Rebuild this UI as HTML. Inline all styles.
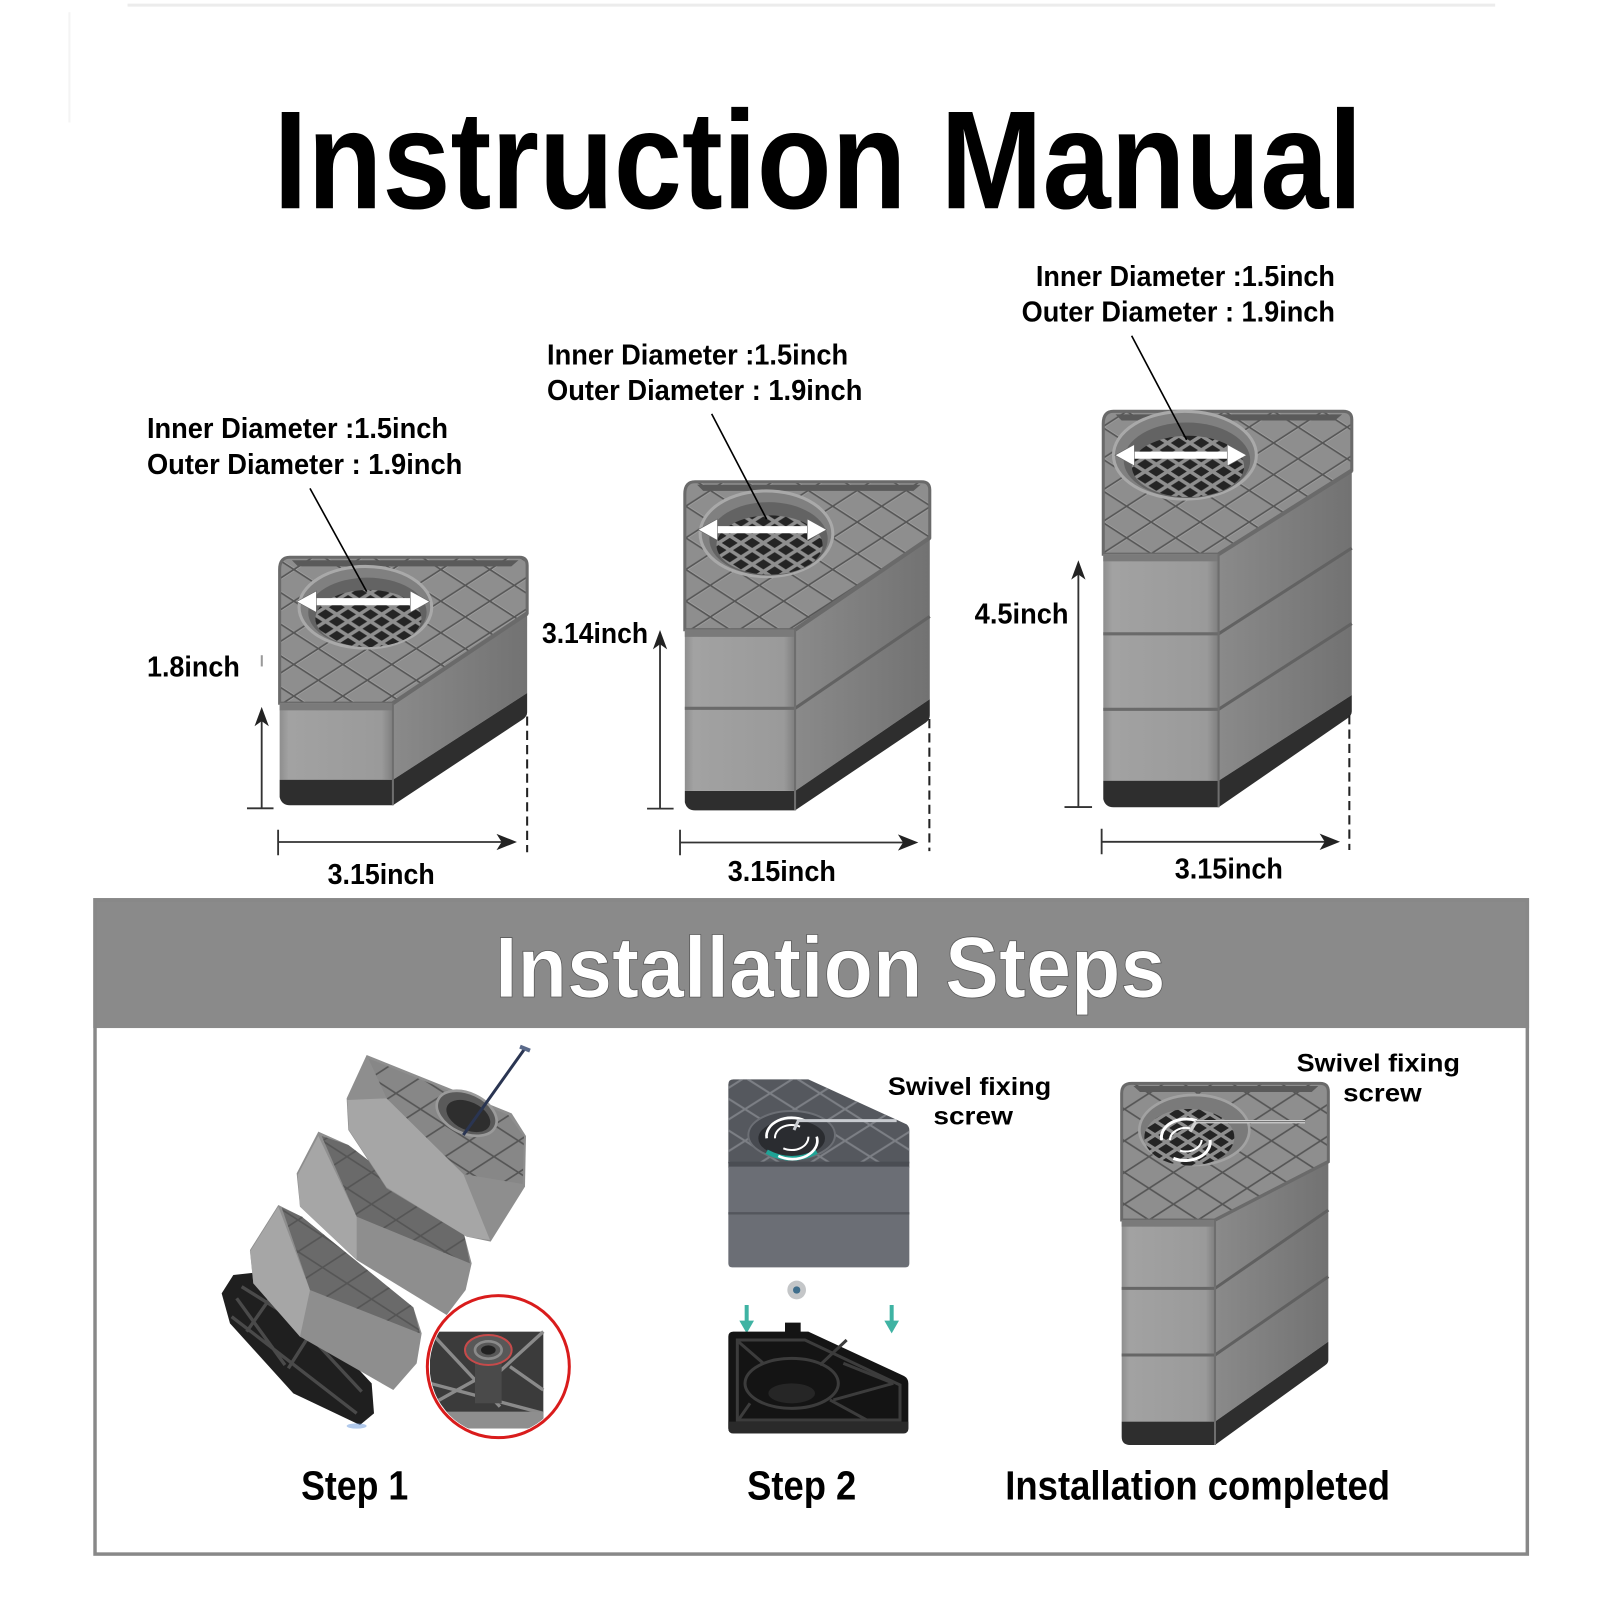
<!DOCTYPE html>
<html><head><meta charset="utf-8"><style>
html,body{margin:0;padding:0;background:#fff;}
svg{display:block;}
text{font-family:"Liberation Sans",Arial,sans-serif;font-weight:bold;}
</style></head><body>
<svg width="1600" height="1600" viewBox="0 0 1567.7 1567.7" xmlns="http://www.w3.org/2000/svg">
<defs>
<pattern id="hatch" width="48" height="31" patternUnits="userSpaceOnUse"><path d="M1.6,0L49.6,31M49.6,0L1.6,31M-46.4,0L1.6,31" stroke="#a8a8a8" stroke-width="1.2" fill="none"/><path d="M0,0L48,31M48,0L0,31" stroke="#555" stroke-width="1.6" fill="none"/></pattern>
<pattern id="grid" width="22" height="14" patternUnits="userSpaceOnUse"><rect width="22" height="14" fill="#242424"/><path d="M0,0L22,14M22,0L0,14" stroke="#8e8e8e" stroke-width="3.4" fill="none"/></pattern>
<pattern id="hatchL" width="147" height="95" patternUnits="userSpaceOnUse"><path d="M0,0L147,95M147,0L0,95" stroke="#555" stroke-width="5" fill="none"/></pattern>
<pattern id="hatch2" width="150" height="95" patternUnits="userSpaceOnUse"><path d="M0,0L150,95M150,0L0,95" stroke="#7c7f85" stroke-width="6" fill="none"/></pattern>
<pattern id="gridL" width="66" height="42" patternUnits="userSpaceOnUse"><rect width="66" height="42" fill="#242424"/><path d="M0,0L66,42M66,0L0,42" stroke="#8e8e8e" stroke-width="10" fill="none"/></pattern>
<linearGradient id="side" x1="0" y1="0" x2="1" y2="0"><stop offset="0" stop-color="#8a8a8a"/><stop offset="1" stop-color="#727272"/></linearGradient>
<linearGradient id="front" x1="0" y1="0" x2="1" y2="0"><stop offset="0" stop-color="#8e8e8e"/><stop offset="0.08" stop-color="#a2a2a2"/><stop offset="0.9" stop-color="#9a9a9a"/><stop offset="1" stop-color="#7e7e7e"/></linearGradient>
<clipPath id="redclip"><circle cx="895" cy="1010" r="206"/></clipPath>
</defs>

<line x1="125" y1="5" x2="1465" y2="5" stroke="#ececec" stroke-width="3"/>
<line x1="68" y1="12" x2="68" y2="120" stroke="#f4f4f4" stroke-width="2"/>

<text x="268" y="204" font-size="137" textLength="1067" lengthAdjust="spacingAndGlyphs" fill="#000">Instruction Manual</text>

<!-- ================= BLOCK 1 ================= -->
<g>
<path d="M284,546 L509,546 Q516.5,546 516.5,554 L516.5,601 L385,689 L274,689 L274,558 Q274,546 284,546 Z" fill="#8e8e8e"/>
<path d="M284,546 L509,546 Q516.5,546 516.5,554 L516.5,601 L385,689 L274,689 L274,558 Q274,546 284,546 Z" fill="url(#hatch)"/>
<path d="M286,549 L508,549 L501,555 L292,555 Z" fill="#5a5a5a"/>
<path d="M284,546 L509,546 Q516.5,546 516.5,554 L516.5,601 L385,689 L274,689 L274,558 Q274,546 284,546 Z" fill="none" stroke="#6a6a6a" stroke-width="3"/>
<ellipse cx="358" cy="595" rx="65" ry="40" fill="#808080" stroke="#a9a9a9" stroke-width="3"/>
<ellipse cx="360" cy="600" rx="58" ry="34" fill="#636363"/>
<ellipse cx="361" cy="606" rx="52" ry="28" fill="url(#grid)"/>
<rect x="274" y="689" width="111" height="75" fill="url(#front)"/>
<rect x="274" y="689" width="111" height="7" fill="#7a7a7a"/>
<path d="M385,689 L516.5,601 L516.5,679 L385,764 Z" fill="url(#side)"/>
<path d="M385,689 L516.5,601" stroke="#6a6a6a" stroke-width="4"/>
<path d="M274,764 L385,764 L516.5,679 L516.5,698 Q516.5,702 512,705 L385,789 L284,789 Q276,789 274,781 Z" fill="#2e2e2e"/>
<path d="M385,689 V789" stroke="#6e6e6e" stroke-width="2"/>
<path d="M306,589.5 H406" stroke="#fff" stroke-width="7"/>
<path d="M290.7,589.5 L310,579 L310,600 Z M421,589.5 L402,579 L402,600 Z" fill="#fff" stroke="#666" stroke-width="0.6"/>
<line x1="303.7" y1="478.5" x2="359.3" y2="579.7" stroke="#000" stroke-width="1.6"/>
</g>
<text x="144" y="429" font-size="28" textLength="295" lengthAdjust="spacingAndGlyphs">Inner Diameter :1.5inch</text>
<text x="144" y="464.5" font-size="28" textLength="309" lengthAdjust="spacingAndGlyphs">Outer Diameter : 1.9inch</text>
<text x="144" y="663" font-size="28" textLength="91" lengthAdjust="spacingAndGlyphs">1.8inch</text>
<line x1="256.5" y1="642" x2="256.5" y2="653" stroke="#999" stroke-width="2"/>
<g stroke="#333" stroke-width="1.8" fill="none">
<path d="M256.4,706 V792 M242,792 H268"/>
<path d="M272.5,825 H500 M272.5,813 V838"/>
</g>
<path d="M256.4,692.6 L263.4,711.6 L256.4,706.6 L249.4,711.6 Z" fill="#222"/>
<path d="M506.5,825 L486.5,817 L491.5,825 L486.5,833 Z" fill="#222"/>
<path d="M516.5,702 V835" stroke="#222" stroke-width="2" stroke-dasharray="9 5"/>
<text x="321" y="866" font-size="28" textLength="105" lengthAdjust="spacingAndGlyphs">3.15inch</text>

<!-- ================= BLOCK 2 ================= -->
<g>
<path d="M681,472 L903,472 Q911,472 911,480 L911,527 L779,617 L671,617 L671,484 Q671,472 681,472 Z" fill="#8e8e8e"/>
<path d="M681,472 L903,472 Q911,472 911,480 L911,527 L779,617 L671,617 L671,484 Q671,472 681,472 Z" fill="url(#hatch)"/>
<path d="M683,475 L902,475 L895,481 L689,481 Z" fill="#5a5a5a"/>
<path d="M681,472 L903,472 Q911,472 911,480 L911,527 L779,617 L671,617 L671,484 Q671,472 681,472 Z" fill="none" stroke="#6a6a6a" stroke-width="3"/>
<ellipse cx="751" cy="523" rx="65" ry="42" fill="#808080" stroke="#a9a9a9" stroke-width="3"/>
<ellipse cx="753" cy="528" rx="58" ry="36" fill="#636363"/>
<ellipse cx="754" cy="534" rx="52" ry="29" fill="url(#grid)"/>
<rect x="671" y="617" width="108" height="158" fill="url(#front)"/>
<rect x="671" y="617" width="108" height="7" fill="#7a7a7a"/>
<path d="M671,694 H779" stroke="#6a6a6a" stroke-width="3"/>
<path d="M779,617 L911,527 L911,685 L779,775 Z" fill="url(#side)"/>
<path d="M779,617 L911,527" stroke="#6a6a6a" stroke-width="4"/>
<path d="M779,694 L911,604" stroke="#626262" stroke-width="3"/>
<path d="M671,775 L779,775 L911,685 L911,701 Q911,705 907,708 L779,794 L681,794 Q673,794 671,786 Z" fill="#2e2e2e"/>
<path d="M779,617 V794" stroke="#6e6e6e" stroke-width="2"/>
<path d="M699,519 H795" stroke="#fff" stroke-width="7"/>
<path d="M684,519 L703,508.5 L703,529.5 Z M810,519 L791,508.5 L791,529.5 Z" fill="#fff" stroke="#666" stroke-width="0.6"/>
<line x1="697.3" y1="405.5" x2="751.2" y2="508.8" stroke="#000" stroke-width="1.6"/>
</g>
<text x="536" y="357" font-size="28" textLength="295" lengthAdjust="spacingAndGlyphs">Inner Diameter :1.5inch</text>
<text x="536" y="392" font-size="28" textLength="309" lengthAdjust="spacingAndGlyphs">Outer Diameter : 1.9inch</text>
<text x="531" y="630" font-size="28" textLength="104" lengthAdjust="spacingAndGlyphs">3.14inch</text>
<g stroke="#333" stroke-width="1.8" fill="none">
<path d="M646.7,631 V792.3 M634,792.3 H660"/>
<path d="M666.3,825.5 H893 M666.3,813 V838"/>
</g>
<path d="M646.7,617.3 L653.7,636.3 L646.7,631.3 L639.7,636.3 Z" fill="#222"/>
<path d="M899.8,825.5 L879.8,817.5 L884.8,825.5 L879.8,833.5 Z" fill="#222"/>
<path d="M910.6,704.5 V834" stroke="#222" stroke-width="2" stroke-dasharray="9 5"/>
<text x="713" y="863" font-size="28" textLength="106" lengthAdjust="spacingAndGlyphs">3.15inch</text>

<!-- ================= BLOCK 3 ================= -->
<g>
<path d="M1091,403 L1316,403 Q1324.5,403 1324.5,411 L1324.5,461 L1194,543 L1081,543 L1081,415 Q1081,403 1091,403 Z" fill="#8e8e8e"/>
<path d="M1091,403 L1316,403 Q1324.5,403 1324.5,411 L1324.5,461 L1194,543 L1081,543 L1081,415 Q1081,403 1091,403 Z" fill="url(#hatch)"/>
<path d="M1093,406 L1315,406 L1308,412 L1099,412 Z" fill="#5a5a5a"/>
<path d="M1091,403 L1316,403 Q1324.5,403 1324.5,411 L1324.5,461 L1194,543 L1081,543 L1081,415 Q1081,403 1091,403 Z" fill="none" stroke="#6a6a6a" stroke-width="3"/>
<ellipse cx="1161" cy="446" rx="70" ry="43" fill="#808080" stroke="#a9a9a9" stroke-width="3"/>
<ellipse cx="1163" cy="451" rx="62" ry="37" fill="#636363"/>
<ellipse cx="1164" cy="457" rx="55" ry="30" fill="url(#grid)"/>
<rect x="1081" y="543" width="113" height="222" fill="url(#front)"/>
<rect x="1081" y="543" width="113" height="7" fill="#7a7a7a"/>
<path d="M1081,621 H1194 M1081,695 H1194" stroke="#6a6a6a" stroke-width="3"/>
<path d="M1194,543 L1324.5,461 L1324.5,681 L1194,765 Z" fill="url(#side)"/>
<path d="M1194,543 L1324.5,461" stroke="#6a6a6a" stroke-width="4"/>
<path d="M1194,621 L1324.5,537 M1194,695 L1324.5,611" stroke="#626262" stroke-width="3"/>
<path d="M1081,765 L1194,765 L1324.5,681 L1324.5,697 Q1324.5,701 1320,704 L1194,791 L1091,791 Q1083,791 1081,783 Z" fill="#2e2e2e"/>
<path d="M1194,543 V791" stroke="#6e6e6e" stroke-width="2"/>
<path d="M1107,446 H1207" stroke="#fff" stroke-width="7"/>
<path d="M1092.5,446 L1111.5,435.5 L1111.5,456.5 Z M1221.5,446 L1202.5,435.5 L1202.5,456.5 Z" fill="#fff" stroke="#666" stroke-width="0.6"/>
<line x1="1108.8" y1="329" x2="1162.7" y2="431" stroke="#000" stroke-width="1.6"/>
</g>
<text x="1015" y="280" font-size="28" textLength="293" lengthAdjust="spacingAndGlyphs">Inner Diameter :1.5inch</text>
<text x="1001" y="315" font-size="28" textLength="307" lengthAdjust="spacingAndGlyphs">Outer Diameter : 1.9inch</text>
<text x="955" y="611" font-size="28" textLength="92" lengthAdjust="spacingAndGlyphs">4.5inch</text>
<g stroke="#333" stroke-width="1.8" fill="none">
<path d="M1056.6,562 V790.8 M1043,790.8 H1070"/>
<path d="M1079.4,824.8 H1306 M1079.4,812 V837"/>
</g>
<path d="M1056.6,548.9 L1063.6,567.9 L1056.6,562.9 L1049.6,567.9 Z" fill="#222"/>
<path d="M1313,824.8 L1293,816.8 L1298,824.8 L1293,832.8 Z" fill="#222"/>
<path d="M1322.1,700.8 V832.8" stroke="#222" stroke-width="2" stroke-dasharray="9 5"/>
<text x="1151" y="861" font-size="28" textLength="106" lengthAdjust="spacingAndGlyphs">3.15inch</text>

<!-- ================= INSTALLATION FRAME ================= -->
<rect x="91.4" y="880" width="1406.8" height="127.3" fill="#8a8a8a"/>
<rect x="93.1" y="881.7" width="1403.4" height="641" fill="none" stroke="#888" stroke-width="3.4"/>
<text x="485" y="977" font-size="85" textLength="657" lengthAdjust="spacingAndGlyphs" fill="#fff" stroke="#5a5a5a" stroke-width="0.8">Installation Steps</text>

<!-- ================= STEP 1 ================= -->
<g transform="translate(195.96,1009.2) scale(0.3266)">
 <path d="M100,735 L165,728 L300,830 L515,1060 L522,1150 L480,1185 L280,1090 L90,880 L65,790 Z" fill="#1f1f1f"/>
 <path d="M125,770 L285,870 L485,1085 M110,805 L255,1005 M210,805 L140,905 M335,905 L265,1015 M95,860 L470,1150" stroke="#4a4a4a" stroke-width="10" fill="none"/>
 <ellipse cx="470" cy="1188" rx="30" ry="8" fill="#7fa6e0" opacity="0.6"/>
 <path d="M235,525 L305,560 L640,832 L665,910 L650,1000 L580,1080 L300,920 L160,760 L150,660 Z" fill="#8e8e8e"/>
 <path d="M150,665 L235,530 L330,780 L300,920 L160,760 Z" fill="#a6a6a6"/>
 <path d="M245,532 L305,560 L640,832 L660,910 L330,780 Z" fill="#6a6a6a"/>
 <path d="M245,532 L305,560 L640,832 L660,910 L330,780 Z" fill="url(#hatchL)"/>
 <path d="M355,305 L445,345 L792,612 L815,700 L797,780 L740,855 L470,690 L300,530 L290,430 Z" fill="#8e8e8e"/>
 <path d="M293,435 L355,318 L470,560 L470,690 L300,530 Z" fill="#a6a6a6"/>
 <path d="M365,318 L445,345 L792,612 L810,700 L470,560 Z" fill="#6a6a6a"/>
 <path d="M365,318 L445,345 L792,612 L810,700 L470,560 Z" fill="url(#hatchL)"/>
 <path d="M500,75 L935,250 L978,318 L975,470 L872,635 L800,620 L560,475 L445,300 L440,205 Z" fill="#8e8e8e"/>
 <path d="M442,210 L560,205 L790,432 L870,630 L800,620 L560,472 L447,300 Z" fill="#a6a6a6"/>
 <path d="M505,85 L925,255 L972,320 L968,462 L790,432 L560,205 Z" fill="#878787"/>
 <path d="M505,85 L925,255 L972,320 L968,462 L790,432 L560,205 Z" fill="url(#hatchL)"/>
 <ellipse cx="800" cy="250" rx="95" ry="60" transform="rotate(25 800 250)" fill="#5a5a5a" stroke="#9a9a9a" stroke-width="8"/>
 <ellipse cx="805" cy="258" rx="70" ry="42" transform="rotate(25 805 258)" fill="#2e2e2e"/>
 <path d="M975,55 L790,315" stroke="#2a3552" stroke-width="9"/>
 <path d="M960,50 L990,62" stroke="#5a6a8a" stroke-width="12"/>
 <circle cx="895" cy="1010" r="213" fill="#fff" stroke="#d91c1c" stroke-width="9"/>
 <g clip-path="url(#redclip)">
  <rect x="690" y="905" width="340" height="290" fill="#3b3b3b"/>
  <path d="M690,905 L900,1130 M1030,905 L860,1060 M690,1060 L1030,1150 M700,1120 L880,1020 M930,1010 L1030,1080" stroke="#8a8a8a" stroke-width="10" fill="none"/>
  <rect x="690" y="1145" width="340" height="50" fill="#8e8e8e"/>
  <rect x="825" y="960" width="80" height="160" fill="#4a4a4a"/>
  <ellipse cx="865" cy="960" rx="70" ry="45" fill="#585858" stroke="#c64a4a" stroke-width="6"/>
  <ellipse cx="865" cy="960" rx="40" ry="26" fill="none" stroke="#8a8a8a" stroke-width="8"/>
  <ellipse cx="865" cy="960" rx="22" ry="14" fill="#222"/>
 </g>
</g>

<!-- ================= STEP 2 ================= -->
<g transform="translate(705.47,1009.2) scale(0.3266)">
 <path d="M40,148 L265,148 L560,283 Q568,290 568,300 L568,400 L25,400 L25,163 Q25,148 40,148 Z" fill="#55585e"/>
 <path d="M40,148 L265,148 L560,283 Q568,290 568,300 L568,400 L25,400 L25,163 Q25,148 40,148 Z" fill="url(#hatch2)"/>
 <rect x="25" y="395" width="543" height="18" fill="#4a4d53"/>
 <path d="M25,410 L568,410 L568,700 Q568,712 556,712 L37,712 Q25,712 25,700 Z" fill="#6b6e75"/>
 <path d="M25,550 H568" stroke="#53565c" stroke-width="7"/>
 <ellipse cx="215" cy="315" rx="130" ry="72" fill="#474a50" stroke="#6c6f75" stroke-width="6"/>
 <ellipse cx="215" cy="325" rx="100" ry="55" fill="#2a2c30"/>
 <path d="M140,365 Q215,405 290,365" stroke="#1fa396" stroke-width="14" fill="none"/>
 <path d="M140,325 A75,55 0 0 1 255,272" stroke="#fff" stroke-width="8" fill="none"/>
 <path d="M290,320 A75,55 0 0 1 175,378" stroke="#fff" stroke-width="8" fill="none"/>
 <path d="M165,325 A50,38 0 0 1 240,290 M265,320 A50,38 0 0 1 190,355" stroke="#fff" stroke-width="6" fill="none"/>
 <path d="M222,300 L235,272 L530,272" stroke="#c8cbd0" stroke-width="9" fill="none"/>
 <circle cx="230" cy="780" r="28" fill="#c4c6c8"/>
 <circle cx="230" cy="780" r="11" fill="#3f6e8c"/>
 <path d="M80,825 V880 M515,825 V880" stroke="#3fb3a3" stroke-width="12"/>
 <path d="M58,872 L102,872 L80,910 Z M493,872 L537,872 L515,910 Z" fill="#3fb3a3"/>
 <path d="M40,905 L195,905 L195,878 L242,878 L242,905 L265,905 L552,1038 Q565,1045 565,1060 L565,1195 Q565,1210 550,1210 L40,1210 Q25,1210 25,1195 L25,920 Q25,905 40,905 Z" fill="#141414"/>
 <path d="M52,930 H255 L540,1065 V1170 H52 Z" stroke="#3c3c3c" stroke-width="9" fill="none"/>
 <ellipse cx="215" cy="1060" rx="140" ry="75" stroke="#3c3c3c" stroke-width="9" fill="none"/>
 <ellipse cx="215" cy="1090" rx="70" ry="30" fill="#262626"/>
 <path d="M55,935 L130,1000 M300,1005 L380,930 M330,1110 L440,1170 M90,1120 L55,1170 M370,1000 L520,1060 M340,1110 L520,1060" stroke="#3c3c3c" stroke-width="9" fill="none"/>
 <path d="M25,1175 H565 V1195 Q565,1210 550,1210 H40 Q25,1210 25,1195 Z" fill="#2a2a2a"/>
</g>
<text x="870" y="1073" font-size="24.5" textLength="160" lengthAdjust="spacingAndGlyphs">Swivel fixing</text>
<text x="914.5" y="1102" font-size="24.5" textLength="78" lengthAdjust="spacingAndGlyphs">screw</text>

<!-- ================= STEP 3 (completed) ================= -->
<g transform="translate(1077.8,1009.2) scale(0.3266)">
 <path d="M95,160 L660,160 Q685,160 685,185 L685,395 L345,570 L65,570 L65,190 Q65,160 95,160 Z" fill="#8e8e8e"/>
 <path d="M95,160 L660,160 Q685,160 685,185 L685,395 L345,570 L65,570 L65,190 Q65,160 95,160 Z" fill="url(#hatchL)"/>
 <path d="M100,168 L655,168 L635,186 L120,186 Z" fill="#5a5a5a"/>
 <path d="M95,160 L660,160 Q685,160 685,185 L685,395 L345,570 L65,570 L65,190 Q65,160 95,160 Z" fill="none" stroke="#6a6a6a" stroke-width="9"/>
 <ellipse cx="283" cy="300" rx="165" ry="105" fill="#7a7a7a" stroke="#a2a2a2" stroke-width="8"/>
 <ellipse cx="268" cy="322" rx="135" ry="85" fill="url(#gridL)"/>
 <path d="M185,330 A75,55 0 0 1 290,272" stroke="#fff" stroke-width="9" fill="none"/>
 <path d="M330,330 A75,55 0 0 1 220,385" stroke="#fff" stroke-width="9" fill="none"/>
 <path d="M210,330 A48,36 0 0 1 270,295 M305,330 A48,36 0 0 1 240,362" stroke="#fff" stroke-width="6" fill="none"/>
 <path d="M270,305 L288,275 L615,275" stroke="#d0d0d0" stroke-width="10" fill="none"/>
 <path d="M288,275 L615,275" stroke="#6a6a6a" stroke-width="3" fill="none"/>
 <rect x="65" y="570" width="280" height="605" fill="url(#front)"/>
 <rect x="65" y="570" width="280" height="20" fill="#7a7a7a"/>
 <path d="M65,775 H345 M65,975 H345" stroke="#666" stroke-width="9"/>
 <path d="M345,570 L685,395 L685,935 L345,1175 Z" fill="url(#side)"/>
 <path d="M345,570 L685,395" stroke="#6a6a6a" stroke-width="10"/>
 <path d="M345,775 L685,540 M345,975 L685,740" stroke="#606060" stroke-width="9"/>
 <path d="M65,1175 L345,1175 L685,935 L685,990 Q685,1000 675,1006 L345,1245 L90,1245 Q65,1245 65,1220 Z" fill="#2e2e2e"/>
 <path d="M345,570 V1245" stroke="#6e6e6e" stroke-width="6"/>
</g>
<text x="1270.5" y="1050" font-size="24.5" textLength="160" lengthAdjust="spacingAndGlyphs">Swivel fixing</text>
<text x="1316" y="1079.5" font-size="24.5" textLength="77" lengthAdjust="spacingAndGlyphs">screw</text>

<text x="295" y="1469" font-size="40" textLength="105" lengthAdjust="spacingAndGlyphs">Step 1</text>
<text x="732" y="1469" font-size="40" textLength="107" lengthAdjust="spacingAndGlyphs">Step 2</text>
<text x="985" y="1469" font-size="40" textLength="377" lengthAdjust="spacingAndGlyphs">Installation completed</text>
</svg>
</body></html>
